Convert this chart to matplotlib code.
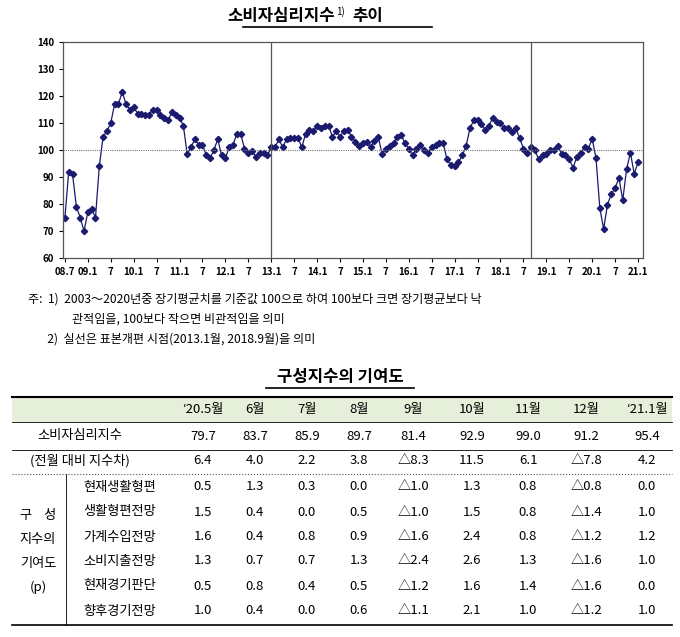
import matplotlib
matplotlib.use("Agg")
import matplotlib.pyplot as plt
from matplotlib import font_manager as fm
import numpy as np, glob

cands = [f for f in fm.fontManager.ttflist if "CJK" in f.name]
for p in glob.glob("/usr/share/fonts/**/*CJK*", recursive=True):
    try:
        fm.fontManager.addfont(p)
    except Exception:
        pass
cands = [f for f in fm.fontManager.ttflist if "CJK" in f.name]
kr = [f.name for f in cands if "KR" in f.name] or [f.name for f in cands]
plt.rcParams["font.family"] = (kr[:1] if kr else []) + ["DejaVu Sans"]

csi = [
    # 2008.7-12
    75, 92, 91, 79, 75, 70,
    # 2009
    77, 78, 75, 94, 105, 107, 110, 117, 117, 121.5, 117, 115,
    # 2010
    116, 113.5, 113.5, 113, 113, 115, 115, 113, 112, 111, 114, 113,
    # 2011
    112, 109, 98.5, 101, 104, 102, 102, 98, 97, 100, 104, 98,
    # 2012
    97, 101, 102, 106, 106, 100.5, 99, 99.5, 97.5, 99, 99, 98,
    # 2013
    101, 101, 104, 101, 104, 104.5, 104.5, 104.5, 101, 106, 107.5, 107,
    # 2014
    109, 108, 109, 109, 105, 107, 105, 107, 107.5, 105, 103, 101.5,
    # 2015
    102.5, 103, 101, 103.5, 105, 98.5, 100.5, 101.5, 102.5, 105, 105.5, 102.5,
    # 2016
    100.5, 98, 100.5, 102, 100, 99, 101, 102, 102.5, 102.5, 96.5, 94.5,
    # 2017
    94, 95.5, 98, 101.5, 108, 111, 111, 109.5, 107.5, 109, 112, 110.5,
    # 2018
    110, 108, 108, 106.5, 108, 104.5, 100.5, 99, 101, 100, 96.5, 98,
    # 2019
    98.5, 100, 100, 101.5, 98.5, 98, 96.5, 93.5, 97.5, 99, 101, 100.5,
    # 2020
    104.2, 96.9, 78.4, 70.8, 79.7, 83.7, 85.9, 89.7, 81.4, 92.9, 99.0, 91.2,
    # 2021.1
    95.4,
]
tick_labels = ["08.7", "09.1", "7", "10.1", "7", "11.1", "7", "12.1", "7", "13.1", "7",
               "14.1", "7", "15.1", "7", "16.1", "7", "17.1", "7", "18.1", "7",
               "19.1", "7", "20.1", "7", "21.1"]
break_months = [54, 122]  # 2013.1, 2018.9

notes = ["주:  1)  2003～2020년중 장기평균치를 기준값 100으로 하여 100보다 크면 장기평균보다 낙",
         "                관적임을, 100보다 작으면 비관적임을 의미",
         "       2)  실선은 표본개편 시점(2013.1월, 2018.9월)을 의미"]

col_headers = ["‘20.5월", "6월", "7월", "8월", "9월", "10월", "11월", "12월", "‘21.1월"]
csi_row = ["79.7", "83.7", "85.9", "89.7", "81.4", "92.9", "99.0", "91.2", "95.4"]
diff_row = ["6.4", "4.0", "2.2", "3.8", "△8.3", "11.5", "6.1", "△7.8", "4.2"]
comp_names = ["현재생활형편", "생활형편전망", "가계수입전망", "소비지출전망", "현재경기판단", "향후경기전망"]
comp_vals = [
    ["0.5", "1.3", "0.3", "0.0", "△1.0", "1.3", "0.8", "△0.8", "0.0"],
    ["1.5", "0.4", "0.0", "0.5", "△1.0", "1.5", "0.8", "△1.4", "1.0"],
    ["1.6", "0.4", "0.8", "0.9", "△1.6", "2.4", "0.8", "△1.2", "1.2"],
    ["1.3", "0.7", "0.7", "1.3", "△2.4", "2.6", "1.3", "△1.6", "1.0"],
    ["0.5", "0.8", "0.4", "0.5", "△1.2", "1.6", "1.4", "△1.6", "0.0"],
    ["1.0", "0.4", "0.0", "0.6", "△1.1", "2.1", "1.0", "△1.2", "1.0"],
]

W, H = 680, 637
fig = plt.figure(figsize=(W / 100, H / 100), dpi=100)

def fx(px): return px / W
def fy(py): return 1 - py / H

# Title
fig.text(fx(335), fy(16), "소비자심리지수", ha="right", va="center", fontsize=12, fontweight="bold")
fig.text(fx(336), fy(12), "1)", ha="left", va="center", fontsize=7)
fig.text(fx(352), fy(16), "추이", ha="left", va="center", fontsize=12, fontweight="bold")
fig.add_artist(plt.Line2D([fx(243), fx(432)], [fy(27), fy(27)], color="black", lw=1.2))

# Chart
ax = fig.add_axes([fx(63), fy(258), fx(643) - fx(63), fy(42) - fy(258)])
x = np.arange(len(csi))
ax.plot(x, csi, color="#1a1a6e", lw=0.9, marker="D", markersize=3.2)
ax.axhline(100, color="#777777", lw=0.8, ls=(0, (1, 1)))
for b in break_months:
    ax.axvline(b, color="#555555", lw=0.9)
ax.set_ylim(60, 140)
ax.set_yticks(range(60, 141, 10))
ax.set_xlim(-0.5, len(csi) - 0.5 + 0.8)
ax.set_xticks(np.arange(0, len(csi), 6))
ax.set_xticklabels(tick_labels)
ax.tick_params(labelsize=7, length=3, direction="out", width=0.8)
for lbl in ax.get_xticklabels() + ax.get_yticklabels():
    lbl.set_fontweight("bold")
for s in ax.spines.values():
    s.set_color("#555555"); s.set_linewidth(0.9)

# Notes
for i, t in enumerate(notes):
    fig.text(fx(28), fy(299 + i * 20), t, ha="left", va="center", fontsize=8.7)

# Table title
fig.text(fx(340), fy(377), "구성지수의 기여도", ha="center", va="center", fontsize=12, fontweight="bold")
fig.add_artist(plt.Line2D([fx(266), fx(414)], [fy(388), fy(388)], color="black", lw=1.2))

# Table
L, R = fx(12), fx(672)
fig.add_artist(plt.Rectangle((L, fy(422)), R - L, fy(397) - fy(422), color="#e6efd9", lw=0))
def hline(py, lw=1.0, ls="-", c="black"):
    fig.add_artist(plt.Line2D([L, R], [fy(py), fy(py)], color=c, lw=lw, ls=ls))
hline(397, 1.5); hline(422, 0.6); hline(450, 0.6); hline(474, 0.8, ":", "#555555"); hline(625, 1.2)
fig.add_artist(plt.Line2D([fx(66), fx(66)], [fy(474), fy(625)], color="black", lw=0.6))

cols = [203, 255, 307, 359, 413, 472, 528, 586, 647]
fs = 9.5
for c, h in zip(cols, col_headers):
    fig.text(fx(c), fy(410), h, ha="center", va="center", fontsize=fs)
fig.text(fx(80), fy(436), "소비자심리지수", ha="center", va="center", fontsize=fs)
fig.text(fx(80), fy(461), "(전월 대비 지수차)", ha="center", va="center", fontsize=fs)
for c, a, b in zip(cols, csi_row, diff_row):
    fig.text(fx(c), fy(436), a, ha="center", va="center", fontsize=fs)
    fig.text(fx(c), fy(461), b, ha="center", va="center", fontsize=fs)
row_y = [487, 512, 537, 561, 586, 611]
for y, name, vals in zip(row_y, comp_names, comp_vals):
    fig.text(fx(120), fy(y), name, ha="center", va="center", fontsize=fs)
    for c, v in zip(cols, vals):
        fig.text(fx(c), fy(y), v, ha="center", va="center", fontsize=fs)
for y, t in zip([515, 539, 563, 587], ["구    성", "지수의", "기여도", "(p)"]):
    fig.text(fx(38), fy(y), t, ha="center", va="center", fontsize=fs)

fig.savefig("out.png", dpi=100)
